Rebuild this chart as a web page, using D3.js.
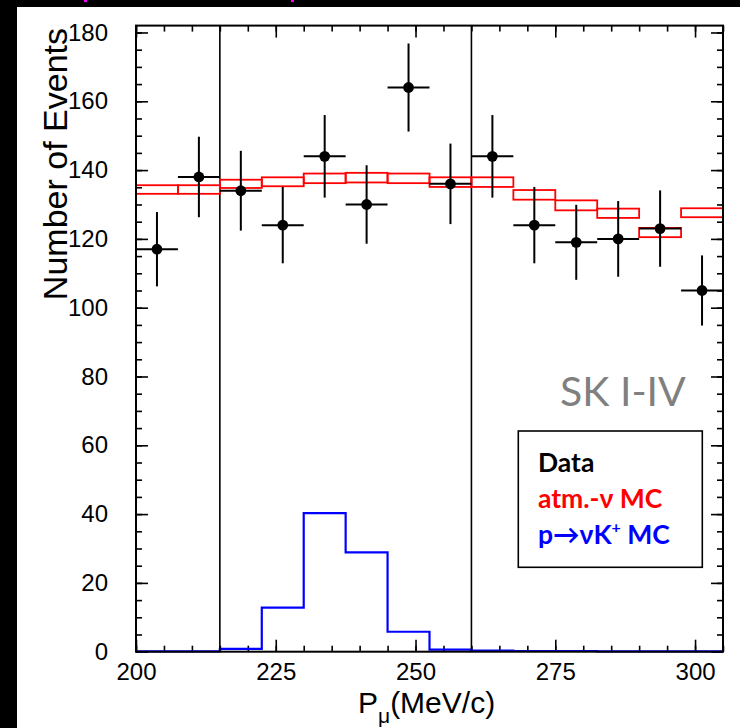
<!DOCTYPE html>
<html>
<head>
<meta charset="utf-8">
<script src="https://cdn.jsdelivr.net/npm/d3@7"></script>
<style>
  html, body { margin: 0; padding: 0; background: #000; }
  svg { display: block; }
</style>
</head>
<body>
<svg id="chart" width="740" height="728"></svg>
<script>
// ---------- data ----------
const binEdges = [200, 207.5, 215, 222.5, 230, 237.5, 245, 252.5, 260, 267.5, 275, 282.5, 290, 297.5, 305];
const dataCounts = [117, 138, 134, 124, 144, 130, 164, 136, 144, 124, 119, 120, 123, 105];
const dataErrors = [10.8, 11.7, 11.6, 11.1, 12.0, 11.4, 12.8, 11.7, 12.0, 11.1, 10.9, 11.0, 11.1, 10.2];
const atmMcLow  = [133.1, 133.1, 134.8, 135.3, 136.2, 136.4, 136.2, 135.1, 135.1, 131.4, 128.3, 126.1, 120.5, 126.3];
const atmMcHigh = [135.6, 135.6, 137.2, 137.9, 139.0, 139.2, 139.0, 137.9, 137.9, 134.2, 131.2, 128.8, 123.2, 128.9];
const signalMc  = [0.1, 0.1, 0.8, 12.8, 40.3, 28.9, 5.8, 0.6, 0.3, 0.2, 0.2, 0.1, 0.1, 0.1];
const cutValues = [215, 260];
const xTickLabels = [200, 225, 250, 275, 300];
const yTickLabels = [0, 20, 40, 60, 80, 100, 120, 140, 160, 180];
const xMinorTicks = d3.range(200, 306, 5);
const yMinorTicks = d3.range(0, 182, 5);
const legendItems = [
  { label: "Data", color: "#000000" },
  { label: "atm.-\u03bd MC", color: "#ff0000" },
  { label: "p\u2192\u03bdK", sup: "+", tail: " MC", color: "#0000ff" }
];

// ---------- setup ----------
const W = 740, H = 728;
const svg = d3.select("#chart");
svg.append("rect").attr("width", W).attr("height", H).attr("fill", "#000");
svg.append("rect").attr("x", 17).attr("y", 7).attr("width", W - 17).attr("height", H - 7).attr("fill", "#fff");
// small magenta remnants at the very top
[[84, 0], [291, 0]].forEach(p => svg.append("rect").attr("x", p[0]).attr("y", p[1]).attr("width", 3).attr("height", 2).attr("fill", "#ff00ff"));

const x = d3.scaleLinear().domain([200, 305]).range([136, 723]);
const y = d3.scaleLinear().domain([0, 182]).range([651.7, 25.6]);
const [x0, x1] = x.range();
const [yb, yt] = y.range();

const font = "'Liberation Sans', Arial, Helvetica, sans-serif";
const g = svg.append("g");

// ---------- axes (ticks inward) ----------
function styleAxis(sel) {
  sel.select(".domain").remove();
  sel.selectAll(".tick line").attr("stroke", "#000").attr("stroke-width", 1.6);
  sel.selectAll(".tick text").attr("font-family", font).attr("font-size", 24).attr("fill", "#000");
}
g.append("g").attr("transform", `translate(0,${yb})`)
  .call(d3.axisBottom(x).tickValues(xMinorTicks).tickSize(-6).tickFormat("")).call(styleAxis);
g.append("g").attr("transform", `translate(0,${yb})`)
  .call(d3.axisBottom(x).tickValues(xTickLabels).tickSize(-12).tickPadding(11).tickFormat(d3.format("d"))).call(styleAxis);
g.append("g").attr("transform", `translate(0,${yt})`)
  .call(d3.axisTop(x).tickValues(xMinorTicks).tickSize(-6).tickFormat("")).call(styleAxis);
g.append("g").attr("transform", `translate(0,${yt})`)
  .call(d3.axisTop(x).tickValues(xTickLabels).tickSize(-12).tickFormat("")).call(styleAxis);
g.append("g").attr("transform", `translate(${x0},0)`)
  .call(d3.axisLeft(y).tickValues(yMinorTicks).tickSize(-6).tickFormat("")).call(styleAxis);
g.append("g").attr("transform", `translate(${x0},0)`)
  .call(d3.axisLeft(y).tickValues(yTickLabels).tickSize(-12).tickPadding(28).tickFormat(d3.format("d"))).call(styleAxis);
g.append("g").attr("transform", `translate(${x1},0)`)
  .call(d3.axisRight(y).tickValues(yMinorTicks).tickSize(-6).tickFormat("")).call(styleAxis);
g.append("g").attr("transform", `translate(${x1},0)`)
  .call(d3.axisRight(y).tickValues(yTickLabels).tickSize(-12).tickFormat("")).call(styleAxis);

// ---------- signal MC (blue step histogram) ----------
const stepPts = signalMc.map((v, i) => [binEdges[i], v]);
stepPts.push([binEdges[binEdges.length - 1], signalMc[signalMc.length - 1]]);
g.append("path")
  .attr("d", d3.line().x(d => x(d[0])).y(d => y(d[1])).curve(d3.curveStepAfter)(stepPts))
  .attr("fill", "none").attr("stroke", "#0000ff").attr("stroke-width", 2.2);

// ---------- cut lines ----------
g.selectAll("line.cut").data(cutValues).join("line").attr("class", "cut")
  .attr("x1", d => x(d)).attr("x2", d => x(d)).attr("y1", yt).attr("y2", yb)
  .attr("stroke", "#000").attr("stroke-width", 1.6);

// ---------- atm MC (red boxes) ----------
g.selectAll("rect.mc").data(atmMcLow).join("rect").attr("class", "mc")
  .attr("x", (d, i) => x(binEdges[i]))
  .attr("width", (d, i) => x(binEdges[i + 1]) - x(binEdges[i]))
  .attr("y", (d, i) => y(atmMcHigh[i]))
  .attr("height", (d, i) => y(d) - y(atmMcHigh[i]))
  .attr("fill", "none").attr("stroke", "#ff0000").attr("stroke-width", 1.8);

// ---------- data points ----------
const pts = g.selectAll("g.pt").data(dataCounts).join("g").attr("class", "pt");
pts.append("line")
  .attr("x1", (d, i) => x(binEdges[i])).attr("x2", (d, i) => x(binEdges[i + 1]))
  .attr("y1", d => y(d)).attr("y2", d => y(d))
  .attr("stroke", "#000").attr("stroke-width", 2);
pts.append("line")
  .attr("x1", (d, i) => x((binEdges[i] + binEdges[i + 1]) / 2)).attr("x2", (d, i) => x((binEdges[i] + binEdges[i + 1]) / 2))
  .attr("y1", (d, i) => y(d + dataErrors[i])).attr("y2", (d, i) => y(d - dataErrors[i]))
  .attr("stroke", "#000").attr("stroke-width", 2);
pts.append("circle")
  .attr("cx", (d, i) => x((binEdges[i] + binEdges[i + 1]) / 2)).attr("cy", d => y(d))
  .attr("r", 5.4).attr("fill", "#000");

// ---------- frame ----------
g.append("rect").attr("x", x0).attr("y", yt).attr("width", x1 - x0).attr("height", yb - yt)
  .attr("fill", "none").attr("stroke", "#000").attr("stroke-width", 2);

// ---------- axis titles ----------
svg.append("text")
  .attr("transform", `translate(67,28) rotate(-90)`)
  .attr("text-anchor", "end").attr("font-family", font).attr("font-size", 34).attr("fill", "#000")
  .text("Number of Events");
const xt = svg.append("text").attr("x", 358).attr("y", 713)
  .attr("font-family", font).attr("font-size", 30).attr("fill", "#000");
xt.append("tspan").text("P");
xt.append("tspan").attr("font-size", 21).attr("dy", 10).text("\u03bc");
xt.append("tspan").attr("dy", -10).text("(MeV/c)");

// ---------- SK label ----------
const lfont = "Lato, 'Open Sans', sans-serif";
svg.append("text").attr("x", 560).attr("y", 406)
  .attr("font-family", lfont).attr("font-size", 41).attr("fill", "#808080")
  .text("SK I-IV");

// ---------- legend ----------
svg.append("rect").attr("x", 518.3).attr("y", 431).attr("width", 184).attr("height", 136.3)
  .attr("fill", "#fff").attr("stroke", "#000").attr("stroke-width", 1.6);
const lt = svg.selectAll("text.leg").data(legendItems).join("text").attr("class", "leg")
  .attr("x", 538).attr("y", (d, i) => 471.7 + i * 36.3)
  .attr("font-family", lfont).attr("font-weight", "bold").attr("font-size", 26.5)
  .attr("fill", d => d.color);
lt.append("tspan").text(d => d.label);
lt.filter(d => d.sup).append("tspan").attr("font-size", 16).attr("dy", -11).text(d => d.sup);
lt.filter(d => d.tail).append("tspan").attr("dy", 11).text(d => d.tail);
</script>
</body>
</html>
